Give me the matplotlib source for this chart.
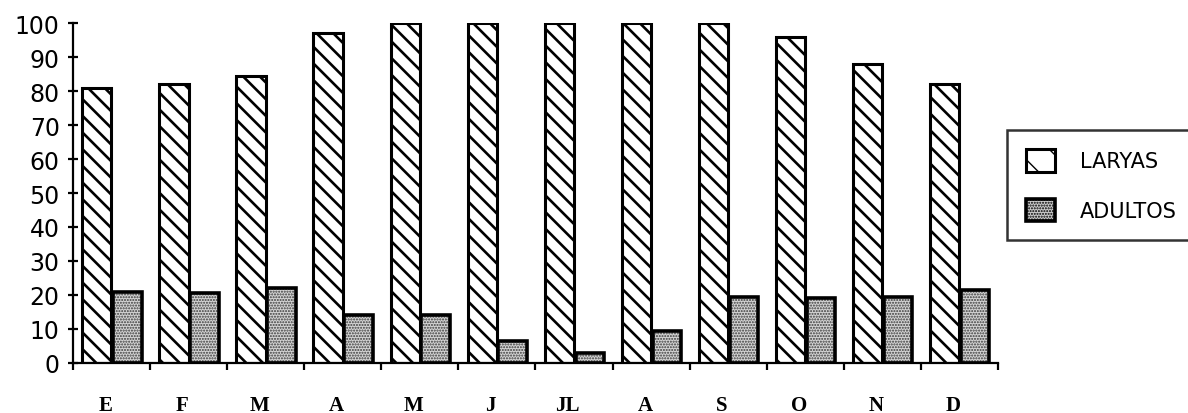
import numpy as np
import matplotlib
matplotlib.use('Agg')
import matplotlib.pyplot as plt
from matplotlib.patches import Patch

# monthly percentages
meses = ['E', 'F', 'M', 'A', 'M', 'J', 'JL', 'A', 'S', 'O', 'N', 'D']
larvas = [81, 82, 84.5, 97, 100, 100, 100, 100, 100, 96, 88, 82]
adultos = [21, 20.5, 22, 14, 14, 6.5, 3, 9.5, 19.5, 19, 19.5, 21.5]

plt.rcParams['font.family'] = 'DejaVu Sans'

fig = plt.figure(figsize=(11.88, 4.14), dpi=100)
ax = fig.add_axes([0.0614, 0.1208, 0.7786, 0.8212])

x = np.arange(len(meses))
w = 0.37

plt.rcParams['hatch.linewidth'] = 1.9
ax.bar(x + 0.12, larvas, width=w + 0.01, align='edge', facecolor='white',
       edgecolor='black', linewidth=2.2, hatch='\\\\', label='LARYAS')

# stippled bars: fine grey dots, then a heavy black outline on top
plt.rcParams['hatch.linewidth'] = 1.0
b2 = ax.bar(x + 0.52, adultos, width=w, align='edge', facecolor='#d4d4d4',
            edgecolor='#3a3a3a', linewidth=0, hatch='......', label='ADULTOS')
for p in b2:
    if hasattr(p, 'set_hatch_linewidth'):
        p.set_hatch_linewidth(1.0)
ax.bar(x + 0.52, adultos, width=w, align='edge', fill=False,
       edgecolor='black', linewidth=2.6)

ax.set_xlim(0, 12)
ax.set_ylim(0, 100)
ax.spines['top'].set_visible(False)
ax.spines['right'].set_visible(False)
ax.spines['left'].set_linewidth(1.6)
ax.spines['bottom'].set_linewidth(1.6)

# y axis
ax.set_yticks(np.arange(0, 101, 10))
ax.tick_params(axis='y', direction='inout', length=7, width=1.6,
               labelsize=17, pad=6)

# x axis: tick marks on the group boundaries, labels under the larvae bars
ax.set_xticks(np.arange(0, 13))
ax.set_xticklabels([])
ax.tick_params(axis='x', which='major', direction='out', length=5, width=1.6)
ax.set_xticks(x + 0.42, minor=True)
ax.set_xticklabels(meses, minor=True, fontfamily='Liberation Serif',
                   fontweight='bold', fontsize=15)
ax.tick_params(axis='x', which='minor', length=0, pad=23)

# legend handles in the same two bar styles
plt.rcParams['hatch.linewidth'] = 2.0
h_larvas = Patch(facecolor='white', edgecolor='black', linewidth=2.2,
                 hatch='\\')
plt.rcParams['hatch.linewidth'] = 1.0
h_adultos = Patch(facecolor='#cccccc', edgecolor='black', linewidth=2.6,
                  hatch='......')
leg = fig.legend([h_larvas, h_adultos], ['LARYAS', 'ADULTOS'],
                 loc='upper left', bbox_to_anchor=(0.8476, 0.683),
                 fontsize=15, frameon=True, fancybox=False,
                 handlelength=1.4, handleheight=1.3, handletextpad=1.2,
                 labelspacing=1.3, borderpad=0.9, borderaxespad=0)
leg.get_frame().set_edgecolor('black')
leg.get_frame().set_linewidth(1.8)

fig.savefig('out.png', dpi=100)
